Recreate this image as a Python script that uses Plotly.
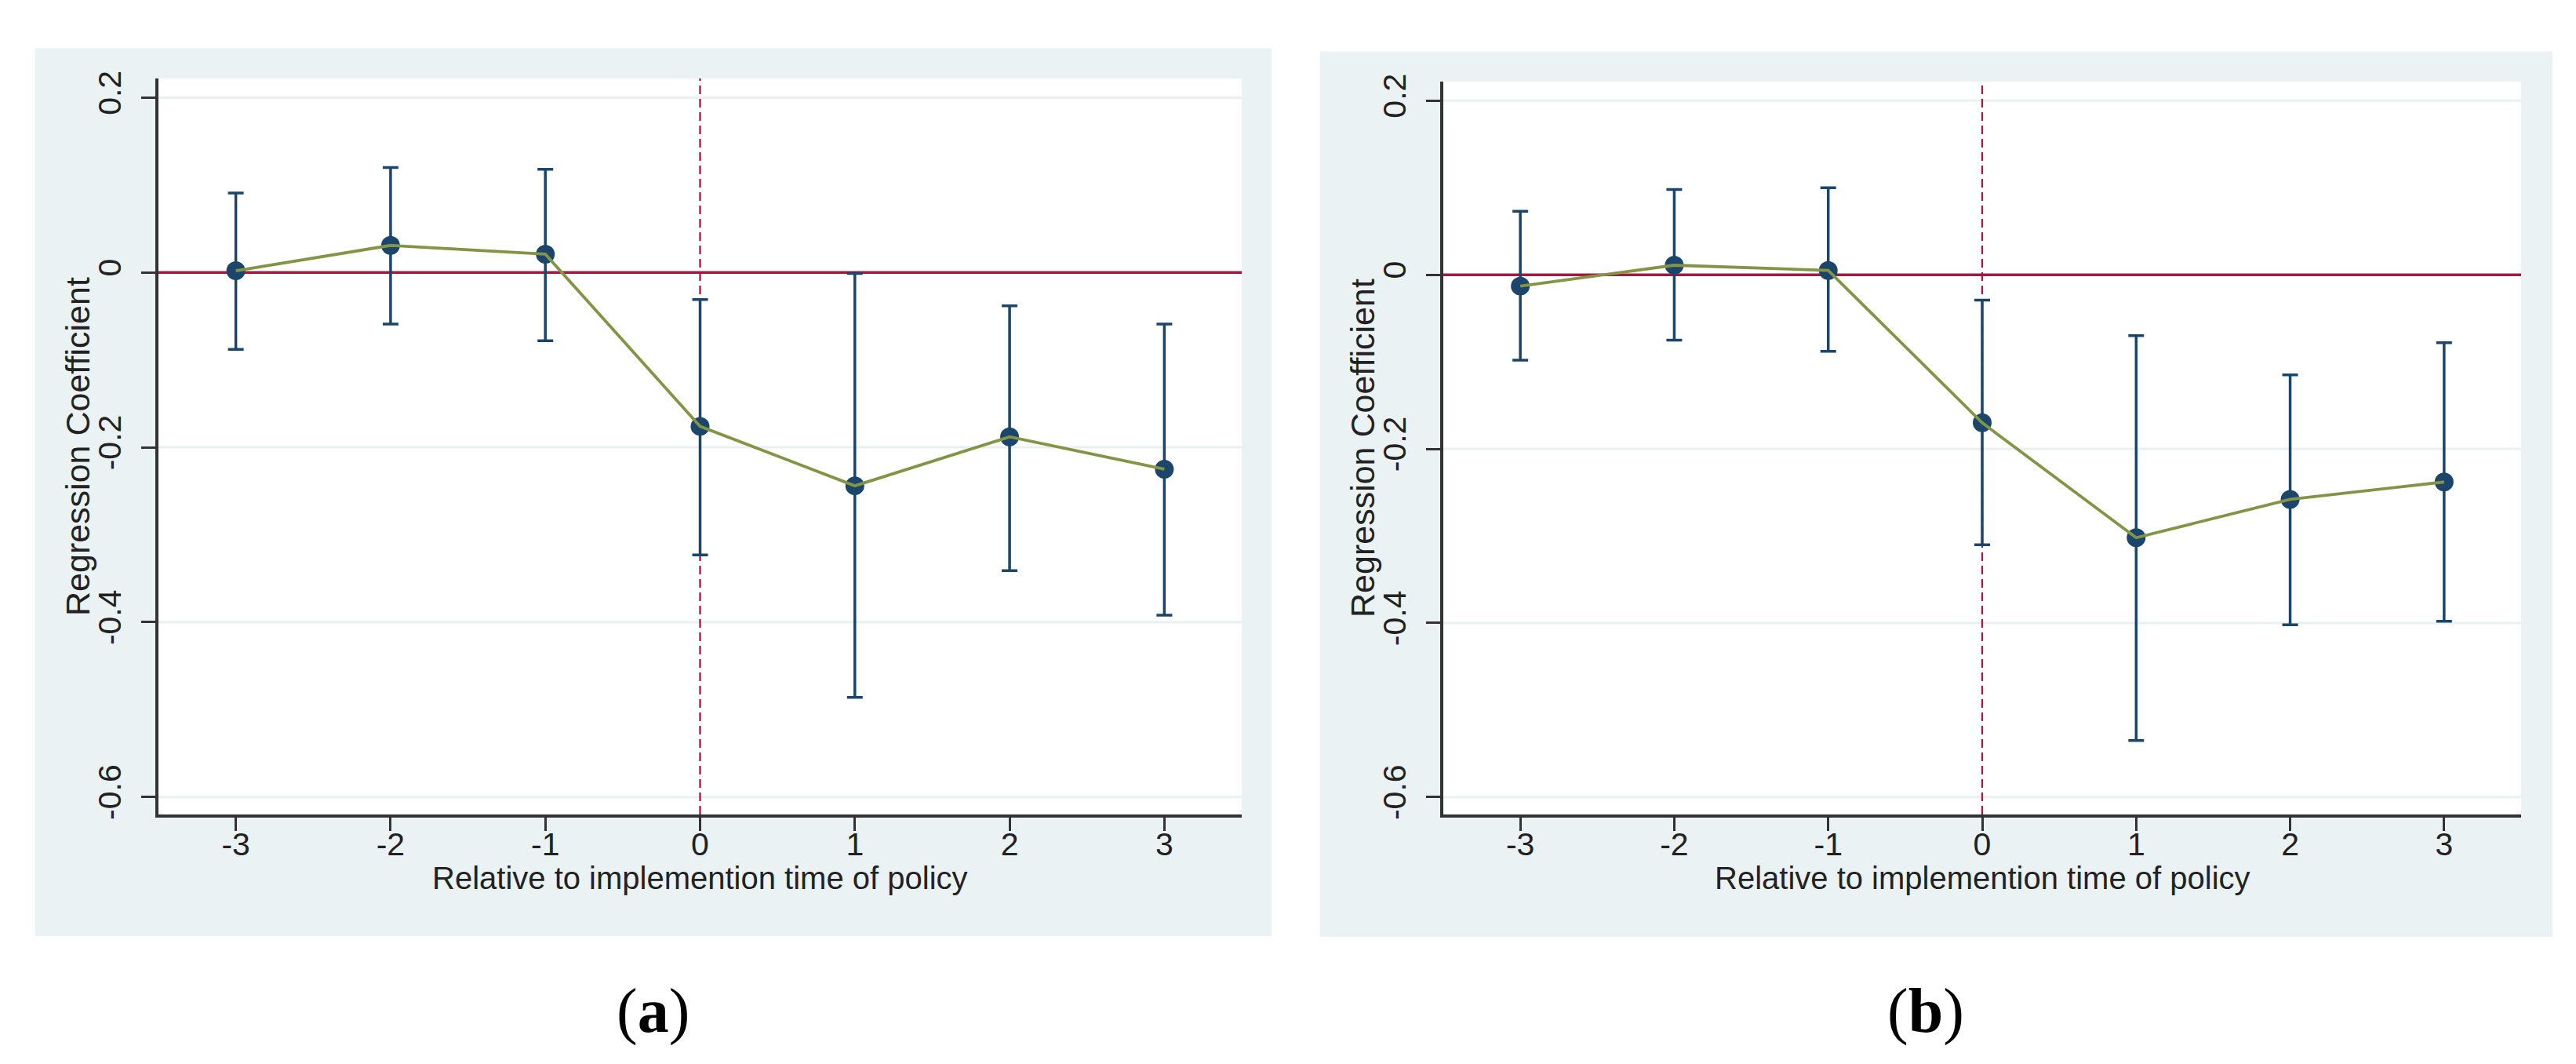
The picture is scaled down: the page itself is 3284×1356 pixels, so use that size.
import plotly.graph_objects as go

# ---------------- data ----------------
periods = [-3, -2, -1, 0, 1, 2, 3]
x_tick_labels = ["-3", "-2", "-1", "0", "1", "2", "3"]
y_ticks = [-0.6, -0.4, -0.2, 0, 0.2]
y_tick_labels = ["-0.6", "-0.4", "-0.2", "0", "0.2"]

coef_a = [0.002, 0.031, 0.021, -0.176, -0.244, -0.188, -0.225]
upper_a = [0.091, 0.120, 0.118, -0.031, -0.001, -0.038, -0.059]
lower_a = [-0.088, -0.059, -0.078, -0.323, -0.486, -0.341, -0.392]

coef_b = [-0.013, 0.011, 0.005, -0.170, -0.302, -0.258, -0.238]
upper_b = [0.073, 0.098, 0.100, -0.029, -0.070, -0.115, -0.078]
lower_b = [-0.098, -0.075, -0.088, -0.310, -0.535, -0.402, -0.398]

x_title = "Relative to implemention time of policy"
y_title = "Regression Coefficient"
panel_labels = ["(<b>a</b>)", "(<b>b</b>)"]

# ---------------- style ----------------
W, H = 3284, 1356
NAVY = "#1B456B"
OLIVE = "#839446"
RED = "#A8173F"
DASH_RED = "#A01A42"
PANEL_BG = "#EAF2F3"
GRID = "#EAEFF0"
AXIS = "#333333"
FONT = "Liberation Sans, Arial, sans-serif"


def px(x):
    return x / W


def py(y):
    return 1 - y / H


fig = go.Figure()

panels = [
    dict(coef=coef_a, up=upper_a, lo=lower_a, xa="x", ya="y",
         plot=(194, 83, 1575, 1033), bg=(37, 44, 1613, 1190),
         ytitle_x=91, label_x=825),
    dict(coef=coef_b, up=upper_b, lo=lower_b, xa="x2", ya="y2",
         plot=(1832, 87, 3206, 1033), bg=(1675, 48, 3246, 1191),
         ytitle_x=1729, label_x=2447),
]

shapes = []
annotations = []

for i, p in enumerate(panels):
    err_plus = [u - c for u, c in zip(p["up"], p["coef"])]
    err_minus = [c - l for c, l in zip(p["coef"], p["lo"])]
    fig.add_trace(go.Scatter(
        x=periods, y=p["coef"], mode="markers", xaxis=p["xa"], yaxis=p["ya"],
        marker=dict(color=NAVY, size=24),
        error_y=dict(type="data", symmetric=False, array=err_plus,
                     arrayminus=err_minus, color=NAVY, thickness=3.5, width=10),
        showlegend=False, hoverinfo="skip"))
    fig.add_trace(go.Scatter(
        x=periods, y=p["coef"], mode="lines", xaxis=p["xa"], yaxis=p["ya"],
        line=dict(color=OLIVE, width=3.8), showlegend=False, hoverinfo="skip"))

    x0, y0, x1, y1 = p["plot"]
    bx0, by0, bx1, by1 = p["bg"]
    # panel background and white plot region
    shapes.append(dict(type="rect", xref="paper", yref="paper",
                       x0=px(bx0), x1=px(bx1), y0=py(by1), y1=py(by0),
                       fillcolor=PANEL_BG, line=dict(width=0), layer="below"))
    shapes.append(dict(type="rect", xref="paper", yref="paper",
                       x0=px(x0), x1=px(x1), y0=py(y1), y1=py(y0),
                       fillcolor="white", line=dict(width=0), layer="below"))
    xd = p["xa"] + " domain"
    yd = p["ya"] + " domain"
    # horizontal grid lines at the y ticks (except 0, which has the reference line)
    for yt in y_ticks:
        if yt == 0:
            continue
        shapes.append(dict(type="line", xref=xd, yref=p["ya"], x0=0, x1=1, y0=yt, y1=yt,
                           line=dict(color=GRID, width=3), layer="below"))
    shapes.append(dict(type="line", xref=xd, yref=p["ya"], x0=0, x1=1, y0=0, y1=0,
                       line=dict(color=RED, width=3.4), layer="below"))
    shapes.append(dict(type="line", xref=p["xa"], yref=yd, x0=0, x1=0, y0=0, y1=1,
                       line=dict(color=DASH_RED, width=2.3, dash="11px,6px"), layer="below"))

    annotations.append(dict(text=x_title, xref="paper", yref="paper",
                            x=px((x0 + x1) / 2), y=py(1115), xanchor="center",
                            yanchor="middle", showarrow=False,
                            font=dict(family=FONT, size=40, color="#222222")))
    annotations.append(dict(text=y_title, xref="paper", yref="paper",
                            x=px(p["ytitle_x"]), y=py((y0 + y1) / 2), xanchor="center",
                            yanchor="middle", showarrow=False, textangle=-90,
                            font=dict(family=FONT, size=43, color="#222222")))
    annotations.append(dict(text=panel_labels[i], xref="paper", yref="paper",
                            x=px(p["label_x"]), y=py(1287), xanchor="center",
                            yanchor="middle", showarrow=False,
                            font=dict(family="Liberation Serif, Times New Roman, serif",
                                      size=80, color="black")))

    suffix = "" if i == 0 else "2"
    fig.update_layout(**{
        "xaxis" + suffix: dict(
            domain=[px(x0), px(x1)], range=[-3.5, 3.5], anchor=p["ya"],
            tickvals=periods, ticktext=x_tick_labels, showgrid=False, zeroline=False,
            showline=True, linecolor=AXIS, linewidth=3.5, ticks="outside",
            ticklen=17, tickwidth=2.5, tickcolor=AXIS, ticklabelstandoff=-18,
            tickfont=dict(family=FONT, size=41, color="#222222")),
        "yaxis" + suffix: dict(
            domain=[py(y1), py(y0)], range=[-0.62, 0.222], anchor=p["xa"],
            tickvals=y_ticks, ticktext=y_tick_labels, showgrid=False,
            zeroline=False, showline=True, linecolor=AXIS, linewidth=3.5,
            ticks="outside", ticklen=18, tickwidth=2.5, tickcolor=AXIS, tickangle=-90,
            ticklabelstandoff=10,
            tickfont=dict(family=FONT, size=41, color="#222222")),
    })

fig.update_layout(
    width=W, height=H, margin=dict(l=0, r=0, t=0, b=0),
    paper_bgcolor="white", plot_bgcolor="white",
    shapes=shapes, annotations=annotations, showlegend=False,
)

fig.write_html("out.html")
